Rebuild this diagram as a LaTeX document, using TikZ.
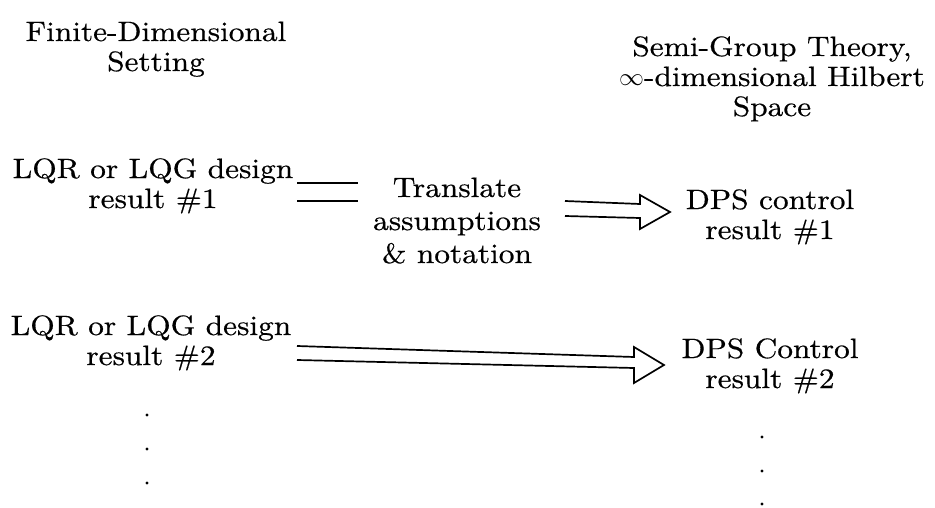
\documentclass[tikz,border=0pt]{standalone}
\usepackage{fontspec}
\setmainfont{lmroman10-regular}[Extension=.otf,FakeBold=0.5,FakeStretch=1.12]
\usetikzlibrary{calc}
\begin{document}
\begin{tikzpicture}[x=1pt,y=-1pt,
  lbl/.style={align=center,inner sep=0pt,anchor=base,font=\fontsize{28}{30}\selectfont},
  lblw/.style={lbl,font=\fontsize{28}{33}\selectfont},
  dotn/.style={circle,fill=black,inner sep=0pt,minimum size=3.4pt},
  conn/.style={line width=1.7pt,line join=miter}]
\path[use as bounding box] (0,0) rectangle (935,508);
\fill[white] (0,0) rectangle (935,508);
% headings (positions are the baselines of the last lines)
\node[lbl] (fds) at (156,71) {Finite-Dimensional\\Setting};
\node[lbl] (sgt) at (772,116) {Semi-Group Theory,\\$\infty$-dimensional Hilbert\\Space};
% row 1
\node[lbl] (lqr1) at (153,208) {LQR or LQG design\\result \#1};
\node[lblw] (tr) at (457,263) {Translate\\assumptions\\\& notation};
\node[lbl] (dps1) at (770,239) {DPS control\\result \#1};
% row 2
\node[lbl] (lqr2) at (151,365) {LQR or LQG design\\result \#2};
\node[lbl] (dps2) at (770,388) {DPS Control\\result \#2};
% dots
\node[dotn] (ld1) at (147,415) {};
\node[dotn] (ld2) at (147,449) {};
\node[dotn] (ld3) at (147,483) {};
\node[dotn] (rd1) at (762,437) {};
\node[dotn] (rd2) at (762,471) {};
\node[dotn] (rd3) at (762,504) {};
% row 1 connectors
\coordinate (e1a) at (297,183);
\coordinate (e1b) at (358,183);
\coordinate (e2a) at (297,201);
\coordinate (e2b) at (358,201);
\draw[conn] (e1a) -- (e1b);
\draw[conn] (e2a) -- (e2b);
\coordinate (s1) at (565,208);
\coordinate (t1) at (670,212);
\draw[conn] ($(s1)+(0,-7)$) -- ($(t1)+(-30,-8)$) -- ($(t1)+(-30,-17)$) -- (t1)
  -- ($(t1)+(-30,17)$) -- ($(t1)+(-30,6)$) -- ($(s1)+(0,8)$);
% row 2 connector
\coordinate (s2) at (297,353);
\coordinate (t2) at (664,365);
\draw[conn] ($(s2)+(0,-7)$) -- ($(t2)+(-30,-8)$) -- ($(t2)+(-30,-18)$) -- (t2)
  -- ($(t2)+(-30,18)$) -- ($(t2)+(-30,3)$) -- ($(s2)+(0,7)$);
\end{tikzpicture}
\end{document}
